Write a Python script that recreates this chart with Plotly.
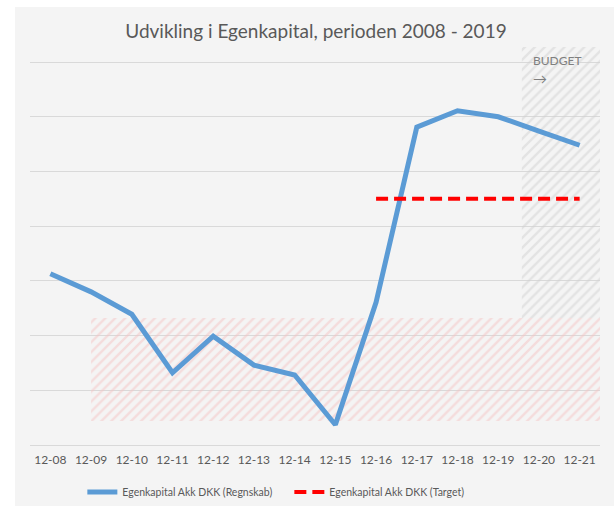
import plotly.graph_objects as go

# ---- data ----
periods = ["12-08", "12-09", "12-10", "12-11", "12-12", "12-13", "12-14",
           "12-15", "12-16", "12-17", "12-18", "12-19", "12-20", "12-21"]
regnskab = [3.13, 2.80, 2.39, 1.32, 1.99, 1.46, 1.28, 0.37, 2.61, 5.81, 6.11, 6.00, 5.74, 5.48]
target_periods = ["12-16", "12-17", "12-18", "12-19", "12-20", "12-21"]
target = [4.50, 4.50, 4.50, 4.50, 4.50, 4.50]
# zones (value units)
low_zone = [0.44, 2.32]         # pink hatched band, from 12-09 to end
budget_zone_start = 11.58        # grey hatched band start (category index)
y_max = 7.276

title = "Udvikling i Egenkapital, perioden 2008 - 2019"
name_a = "Egenkapital Akk DKK (Regnskab)"
name_b = "Egenkapital Akk DKK (Target)"

idx = {p: i for i, p in enumerate(periods)}
x_a = [idx[p] for p in periods]
x_b = [idx[p] for p in target_periods]
x_end = len(periods) - 0.5

FONT = "Lato"
TXT = "#595959"

fig = go.Figure()

# pink hatched zone
z0 = idx["12-09"]
fig.add_trace(go.Scatter(
    x=[z0, x_end, x_end, z0, z0],
    y=[low_zone[0], low_zone[0], low_zone[1], low_zone[1], low_zone[0]],
    fill="toself", mode="none", showlegend=False, hoverinfo="skip",
    fillcolor="rgba(0,0,0,0)",
    fillpattern=dict(shape="/", fgcolor="#f5c4c4", bgcolor="rgba(0,0,0,0)",
                     size=7, solidity=0.35),
))
# grey hatched budget zone
fig.add_trace(go.Scatter(
    x=[budget_zone_start, x_end, x_end, budget_zone_start, budget_zone_start],
    y=[low_zone[1], low_zone[1], y_max, y_max, low_zone[1]],
    fill="toself", mode="none", showlegend=False, hoverinfo="skip",
    fillcolor="rgba(0,0,0,0)",
    fillpattern=dict(shape="/", fgcolor="#d2d2d2", bgcolor="rgba(0,0,0,0)",
                     size=7, solidity=0.35),
))

fig.add_trace(go.Scatter(
    x=x_a, y=regnskab, mode="lines", name=name_a,
    line=dict(color="#5b9bd5", width=5),
))
fig.add_trace(go.Scatter(
    x=x_b, y=target, mode="lines", name=name_b,
    line=dict(color="#ff0000", width=4, dash="12px,6px"),
))

# grey panel background
fig.add_shape(type="rect", xref="paper", yref="paper", layer="below",
              x0=(15 - 30) / 570, x1=(614 - 30) / 570,
              y0=(445 - 506) / 398, y1=(445 - 7) / 398,
              fillcolor="#f4f4f4", line=dict(width=0))

fig.add_annotation(x=budget_zone_start, y=y_max, xref="x", yref="y",
                   text="BUDGET", showarrow=False, xanchor="left", yanchor="top",
                   xshift=9, yshift=-4,
                   font=dict(family=FONT, size=12, color="#7f7f7f"))
fig.add_annotation(x=budget_zone_start, y=y_max, xref="x", yref="y",
                   text="→", showarrow=False, xanchor="left", yanchor="top",
                   xshift=9, yshift=-21,
                   font=dict(family=FONT, size=14, color="#7f7f7f"))

fig.update_layout(
    width=614, height=506,
    margin=dict(l=30, r=14, t=47, b=61),
    paper_bgcolor="white", plot_bgcolor="rgba(0,0,0,0)",
    title=dict(text=title, x=(316) / 614, xanchor="center", y=1 - 31 / 506,
               yanchor="middle", yref="container",
               font=dict(family=FONT, size=19, color=TXT)),
    font=dict(family=FONT, color=TXT),
    showlegend=True,
    legend=dict(orientation="h", x=0.455, xanchor="center", y=1 - 492 / 506,
                yref="container", yanchor="middle",
                font=dict(family=FONT, size=10.5, color=TXT),
                bgcolor="rgba(0,0,0,0)", itemwidth=30, entrywidth=162),
    xaxis=dict(range=[-0.5, x_end], tickvals=x_a, ticktext=periods,
               showgrid=False, zeroline=False, showline=False, automargin=False,
               ticks="", ticklabelstandoff=6,
               tickfont=dict(family=FONT, size=12, color=TXT)),
    yaxis=dict(range=[0, y_max], dtick=1, tick0=0, showticklabels=False,
               showgrid=True, gridcolor="#d9d9d9", gridwidth=1.3, automargin=False,
               zeroline=True, zerolinecolor="#d9d9d9", zerolinewidth=1.3,
               showline=False),
)

fig.write_html("out.html", config={"displayModeBar": False},
               post_script="document.body.style.margin='0';document.body.style.overflow='hidden';")
